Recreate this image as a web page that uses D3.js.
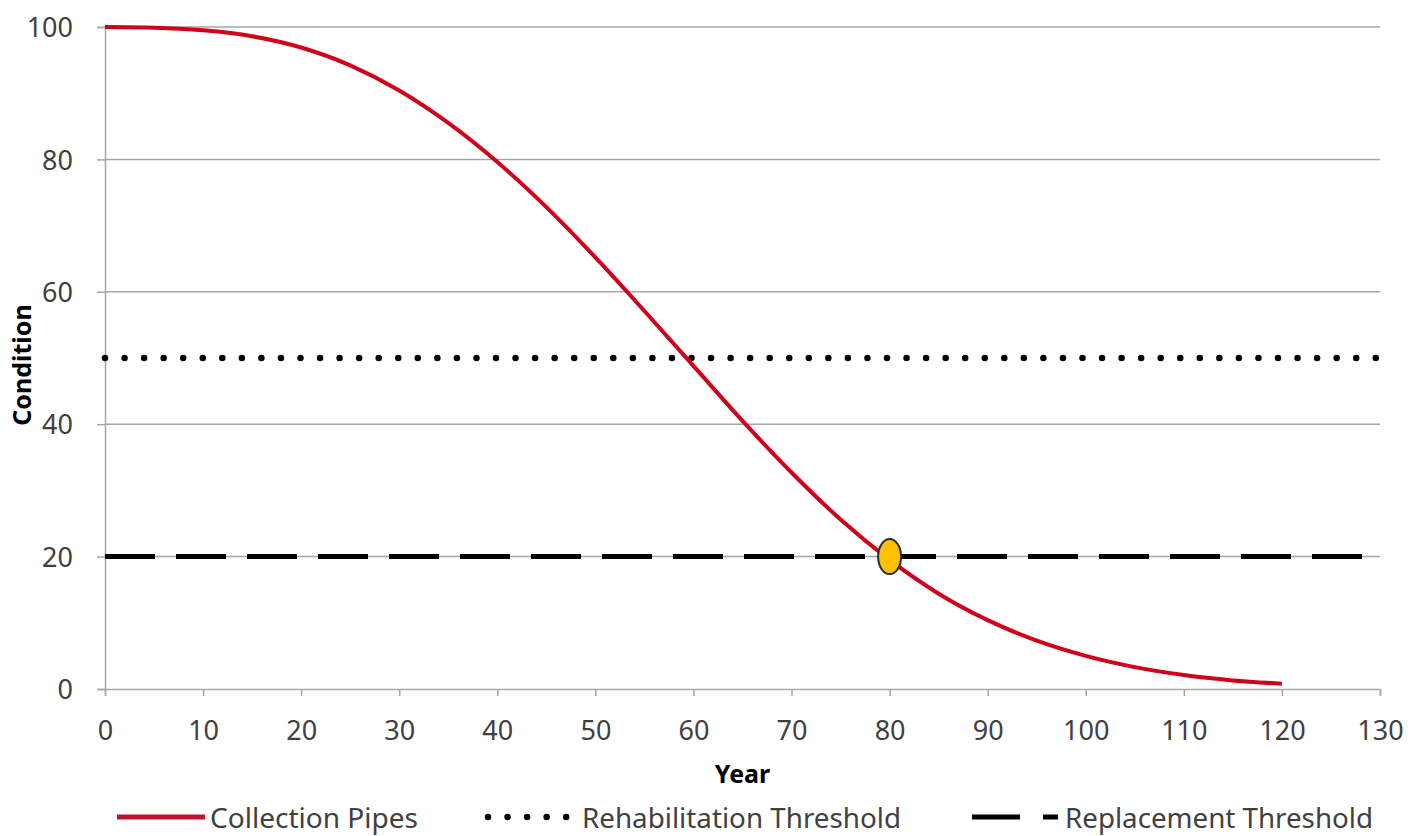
<!DOCTYPE html>
<html>
<head>
<meta charset="utf-8">
<script src="https://cdn.jsdelivr.net/npm/d3@7"></script>
<style>
  html, body { margin: 0; padding: 0; background: #ffffff; }
  svg { display: block; }
  text { font-family: "Noto Sans", "Open Sans", sans-serif; }
</style>
</head>
<body>
<svg id="chart" width="1412" height="836"></svg>
<script>
// ---- data ----
const years = [0, 5, 10, 15, 20, 25, 30, 35, 40, 45, 50, 55, 60, 65, 70, 75, 80, 85, 90, 95, 100, 105, 110, 115, 120];
const condition = [100, 99.9, 99.5, 98.6, 96.9, 94.2, 90.4, 85.5, 79.6, 72.8, 65.2, 57.1, 48.8, 40.5, 32.7, 25.6, 19.5, 14.4, 10.4, 7.3, 5.0, 3.3, 2.1, 1.3, 0.8];
const rehabThreshold = 50;
const replacementThreshold = 20;
const markerYear = [80];
const markerValue = [20];
const xTickValues = [0, 10, 20, 30, 40, 50, 60, 70, 80, 90, 100, 110, 120, 130];
const yTickValues = [0, 20, 40, 60, 80, 100];
const xDomain = [0, 130];
const yDomain = [0, 100];
const seriesNames = ["Collection Pipes", "Rehabilitation Threshold", "Replacement Threshold"];

// ---- layout ----
const svg = d3.select("#chart");
const mLeft = 105, mRight = 1380, mTop = 27, mBottom = 689;
const x = d3.scaleLinear().domain(xDomain).range([mLeft, mRight]);
const y = d3.scaleLinear().domain(yDomain).range([mBottom, mTop]);

const gridColor = "#a6a6a6";
const labelColor = "#404040";
const red = "#d0021b";

// gridlines
svg.append("g").selectAll("line")
  .data(yTickValues.filter(v => v > 0))
  .join("line")
  .attr("x1", x(xDomain[0])).attr("x2", x(xDomain[1]))
  .attr("y1", d => y(d)).attr("y2", d => y(d))
  .attr("stroke", gridColor).attr("stroke-width", 1.5);

// y axis
const yAxis = svg.append("g")
  .attr("transform", `translate(${mLeft},0)`)
  .call(d3.axisLeft(y).tickValues(yTickValues).tickSize(8).tickPadding(24).tickFormat(d3.format("d")));
yAxis.select(".domain").attr("stroke", gridColor).attr("stroke-width", 1.5);
yAxis.selectAll(".tick line").attr("stroke", gridColor).attr("stroke-width", 1.5);
yAxis.selectAll(".tick text")
  .attr("fill", labelColor).attr("font-size", 27).attr("dy", "0.36em")
  .style("font-family", '"Noto Sans", "Open Sans", sans-serif');

// x axis
const xAxis = svg.append("g")
  .attr("transform", `translate(0,${mBottom})`)
  .call(d3.axisBottom(x).tickValues(xTickValues).tickSize(7).tickPadding(25).tickFormat(d3.format("d")));
xAxis.select(".domain").attr("stroke", gridColor).attr("stroke-width", 1.5);
xAxis.selectAll(".tick line").attr("stroke", gridColor).attr("stroke-width", 1.5);
xAxis.selectAll(".tick text")
  .attr("fill", labelColor).attr("font-size", 27)
  .style("font-family", '"Noto Sans", "Open Sans", sans-serif');

// axis titles
svg.append("text")
  .attr("x", (mLeft + mRight) / 2).attr("y", 783)
  .attr("text-anchor", "middle")
  .attr("font-size", 25).attr("font-weight", "bold").attr("fill", "#000")
  .text("Year");
svg.append("text")
  .attr("transform", `translate(31,${(mTop + mBottom) / 2 + 7}) rotate(-90)`)
  .attr("text-anchor", "middle")
  .attr("font-size", 25).attr("font-weight", "bold").attr("fill", "#000")
  .text("Condition");

// threshold lines
svg.append("line")
  .attr("x1", x(xDomain[0])).attr("x2", x(xDomain[1]))
  .attr("y1", y(rehabThreshold)).attr("y2", y(rehabThreshold))
  .attr("stroke", "#000").attr("stroke-width", 6.5)
  .attr("stroke-linecap", "round").attr("stroke-dasharray", "0 19.55");
svg.append("line")
  .attr("x1", x(xDomain[0])).attr("x2", x(xDomain[1]))
  .attr("y1", y(replacementThreshold)).attr("y2", y(replacementThreshold))
  .attr("stroke", "#000").attr("stroke-width", 5)
  .attr("stroke-dasharray", "50 21");

// curve
const data = years.map((yr, i) => ({ yr, v: condition[i] }));
svg.append("path")
  .datum(data)
  .attr("fill", "none")
  .attr("stroke", red).attr("stroke-width", 4)
  .attr("d", d3.line().x(d => x(d.yr)).y(d => y(d.v)).curve(d3.curveMonotoneX));

// marker
svg.append("g").selectAll("ellipse")
  .data(markerYear.map((yr, i) => ({ yr, v: markerValue[i] })))
  .join("ellipse")
  .attr("cx", d => x(d.yr)).attr("cy", d => y(d.v))
  .attr("rx", 11.5).attr("ry", 17.5)
  .attr("fill", "#ffc000").attr("stroke", "#2b2b2b").attr("stroke-width", 2);

// legend
const legY = 817;
const lg = svg.append("g");
lg.append("line").attr("x1", 117).attr("x2", 205).attr("y1", legY).attr("y2", legY)
  .attr("stroke", "#c8102e").attr("stroke-width", 5);
lg.append("text").attr("x", 210).attr("y", 828).attr("font-size", 27).attr("fill", labelColor)
  .attr("textLength", 208).attr("lengthAdjust", "spacingAndGlyphs").text(seriesNames[0]);

lg.append("line").attr("x1", 488).attr("x2", 570).attr("y1", legY).attr("y2", legY)
  .attr("stroke", "#000").attr("stroke-width", 6.5)
  .attr("stroke-linecap", "round").attr("stroke-dasharray", "0 19.55");
lg.append("text").attr("x", 582).attr("y", 828).attr("font-size", 27).attr("fill", labelColor)
  .attr("textLength", 319).attr("lengthAdjust", "spacingAndGlyphs").text(seriesNames[1]);

lg.append("line").attr("x1", 972).attr("x2", 1058).attr("y1", legY).attr("y2", legY)
  .attr("stroke", "#000").attr("stroke-width", 5)
  .attr("stroke-dasharray", "48 23");
lg.append("text").attr("x", 1065).attr("y", 828).attr("font-size", 27).attr("fill", labelColor)
  .attr("textLength", 308).attr("lengthAdjust", "spacingAndGlyphs").text(seriesNames[2]);
</script>
</body>
</html>
